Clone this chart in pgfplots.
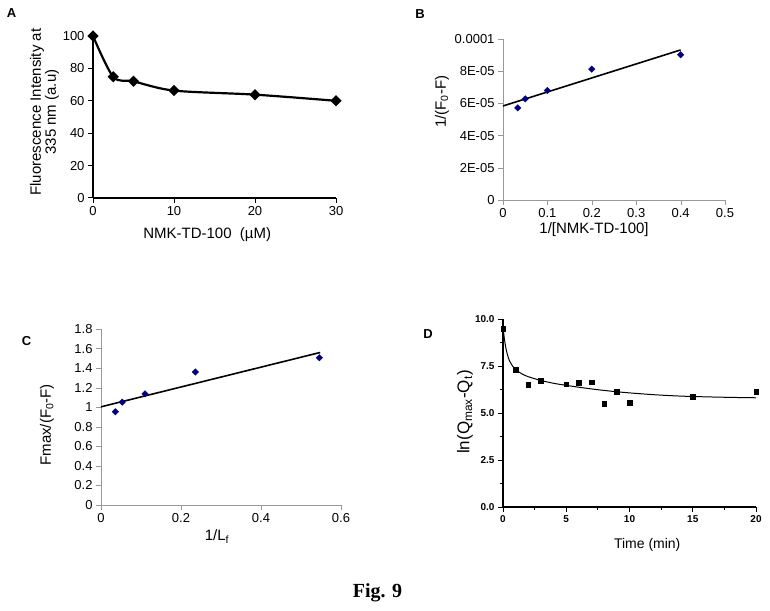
\documentclass[border=0pt]{standalone}
\usepackage{fontspec}
\setmainfont{Liberation Sans}
\newfontfamily\serifbold{Liberation Serif}
\usepackage{pgfplots}
\pgfplotsset{compat=1.18}
\newcommand{\fs}[1]{\fontsize{#1bp}{#1bp}\selectfont}
\definecolor{navyb}{RGB}{0,0,128}
\begin{document}
\begin{tikzpicture}
\path[use as bounding box] (0,0) rectangle (770bp,611bp);

% common look
\pgfplotsset{
  every axis/.append style={
    scale only axis, anchor=south west, clip=false,
    /pgf/number format/assume math mode=true,
    tick align=outside, major tick length=5bp,
    tick label style={font=\fs{13}},
    label style={font=\fs{15}},
  },
}

% ---------- A ----------
\begin{axis}[
  at={(93bp,413bp)}, width=243bp, height=162bp,
  axis lines*=left, axis line style={black, line width=1.6pt},
  tick style={black, line width=1pt},
  xmin=0, xmax=30, ymin=0, ymax=100,
  xtick={0,10,20,30}, ytick={0,20,40,60,80,100},
  xlabel={NMK-TD-100\ \ (µM)},
  ylabel={Fluorescence Intensity at\\335 nm (a.u)},
  ylabel style={align=center, at={(axis description cs:-0.2,0.53)}, anchor=center},
  xlabel style={at={(axis description cs:0.47,-0.228)}, anchor=center},
]
\addplot[black, line width=2.2pt, smooth, mark=square*, mark size=2.9pt,
  mark options={solid, fill=black, rotate=45}] coordinates {
  (0,100) (2.5,74.8) (5,72) (10,66.3) (20,63.8) (30,60)
};
\end{axis}

% ---------- B ----------
\begin{axis}[
  at={(503bp,411bp)}, width=222bp, height=161bp,
  axis lines*=left, axis line style={gray!80},
  tick style={gray!80},
  xmin=0, xmax=0.5, ymin=0, ymax=0.0001,
  scaled y ticks=false, scaled x ticks=false,
  xtick={0,0.1,0.2,0.3,0.4,0.5}, xticklabels={0,0.1,0.2,0.3,0.4,0.5},
  ytick={0,0.00002,0.00004,0.00006,0.00008,0.0001},
  yticklabels={0,2E-05,4E-05,6E-05,8E-05,0.0001},
  xlabel={1/[NMK-TD-100]},
  ylabel={1/(F\textsubscript{0}-F)},
  ylabel style={at={(axis description cs:-0.275,0.61)}, anchor=center},
  xlabel style={at={(axis description cs:0.41,-0.186)}, anchor=center},
]
\addplot[black, line width=1.6pt] coordinates {(0,0.0000584) (0.4,0.0000932)};
\addplot[only marks, mark=square*, mark size=2.3pt, navyb, mark options={rotate=45}]
  coordinates {
  (0.0333,0.0000572) (0.05,0.0000628) (0.1,0.0000680) (0.2,0.0000813) (0.4,0.0000902)
};
\end{axis}

% ---------- C ----------
\begin{axis}[
  at={(101bp,106bp)}, width=240bp, height=176bp,
  axis lines*=left, axis line style={gray!80},
  tick style={gray!80},
  xmin=0, xmax=0.6, ymin=0, ymax=1.8,
  xtick={0,0.2,0.4,0.6}, xticklabels={0,0.2,0.4,0.6},
  ytick={0,0.2,0.4,0.6,0.8,1,1.2,1.4,1.6,1.8},
  yticklabels={0,0.2,0.4,0.6,0.8,1,1.2,1.4,1.6,1.8},
  xlabel={1/L\textsubscript{f}},
  ylabel={Fmax/(F\textsubscript{0}-F)},
  ylabel style={at={(axis description cs:-0.225,0.455)}, anchor=center},
  xlabel style={at={(axis description cs:0.483,-0.18)}, anchor=center},
]
\addplot[black, line width=1.6pt] coordinates {(0,1.004) (0.548,1.56)};
\addplot[only marks, mark=square*, mark size=2.3pt, navyb, mark options={rotate=45}]
  coordinates {
  (0.036,0.953) (0.053,1.052) (0.11,1.137) (0.236,1.36) (0.546,1.506)
};
\end{axis}

% ---------- D ----------
\begin{axis}[
  at={(503bp,104bp)}, width=253bp, height=188bp,
  axis lines*=left, axis line style={black, line width=1.1pt},
  tick style={black, line width=0.8pt},
  minor tick length=3bp,
  xmin=0, xmax=20, ymin=0, ymax=10,
  xtick={0,5,10,15,20}, xticklabels={0,5,10,15,20},
  ytick={0,2.5,5,7.5,10}, yticklabels={0.0,2.5,5.0,7.5,10.0},
  minor x tick num=1, minor y tick num=1,
  tick label style={font=\bfseries\fs{10}},
  xlabel={Time (min)},
  ylabel={ln(Q\textsubscript{max}-Q\textsubscript{t})},
  xlabel style={font=\fs{14}, at={(axis description cs:0.57,-0.2)}, anchor=center},
  ylabel style={font=\fs{17}, at={(axis description cs:-0.15,0.505)}, anchor=center},
]
\addplot[black, line width=1pt, smooth] coordinates {
  (0,9.6) (0.1,9.0) (0.2,8.55) (0.35,8.1) (0.5,7.8) (0.75,7.5) (1,7.3)
  (1.5,7.08) (2,6.93) (3,6.73) (4,6.58) (5,6.47) (6,6.37) (7,6.28) (8,6.2)
  (9,6.13) (10,6.07) (12,5.97) (14,5.9) (16,5.86) (18,5.83) (20,5.81)
};
\addplot[only marks, mark=square*, mark size=2.3pt, black] coordinates {
  (0,9.47) (1,7.29) (2,6.5) (3,6.73) (5,6.53) (6,6.6) (7,6.64)
  (8,5.49) (9,6.12) (10,5.56) (15,5.88) (20,6.12)
};
\end{axis}

% panel letters and caption
\node[font=\bfseries\fs{13}] at (11.5bp,597.5bp) {A};
\node[font=\bfseries\fs{13}] at (420bp,596.5bp) {B};
\node[font=\bfseries\fs{13}] at (26.5bp,269.5bp) {C};
\node[font=\bfseries\fs{13}] at (428bp,276.5bp) {D};
\node[font=\serifbold\bfseries\fs{20}, anchor=base] at (377.5bp,14bp) {Fig. 9};
\end{tikzpicture}
\end{document}
